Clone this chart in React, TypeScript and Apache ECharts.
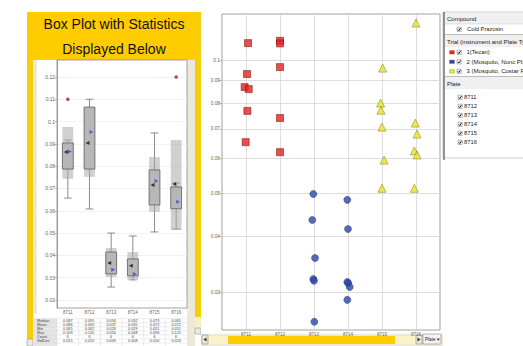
import React, { useEffect, useRef } from 'react';
import * as echarts from 'echarts';

// ---------- categories ----------
const plates = ['8711', '8712', '8713', '8714', '8715', '8716'];

// ---------- left panel: box plot (linear y) ----------
const boxTicks = [0.02, 0.03, 0.04, 0.05, 0.06, 0.07, 0.08, 0.09, 0.1, 0.11, 0.12];
const whiskerLow = [0.0657, 0.0608, 0.0258, 0.029, 0.0505, 0.0518];
const boxLow = [0.0787, 0.0787, 0.0317, 0.0308, 0.0626, 0.0609];
const boxHigh = [0.0904, 0.1065, 0.0415, 0.0384, 0.0783, 0.0707];
const whiskerHigh = [0.0917, 0.11, 0.05, 0.0487, 0.0949, 0.0724];
const bandLow = [0.0743, 0.0752, 0.0303, 0.0291, 0.0595, 0.0514];
const bandHigh = [0.0976, 0.1065, 0.0433, 0.0415, 0.0841, 0.0917];
const meanMarks = [0.0864, 0.0904, 0.0366, 0.0353, 0.0716, 0.072]; // black, pointing left
const medianMarks = [0.0866, 0.0953, 0.0335, 0.0317, 0.0733, 0.064]; // blue, pointing right
const outlierPlate = [0, 5];
const outlierValue = [0.11, 0.12];

// ---------- statistics table ----------
const statNames = ['Median', 'Mean', 'Min', 'Max', 'Count', 'StdDev'];
const statMedian = ['0.087', '0.095', '0.034', '0.032', '0.073', '0.065'];
const statMean = ['0.086', '0.090', '0.037', '0.035', '0.072', '0.072'];
const statMin = ['0.065', '0.062', '0.026', '0.029', '0.051', '0.051'];
const statMax = ['0.109', '0.110', '0.050', '0.048', '0.096', '0.121'];
const statCount = ['6', '6', '6', '6', '6', '6'];
const statStdDev = ['0.015', '0.020', '0.009', '0.008', '0.016', '0.024'];

// ---------- right panel: scatter (log y) ----------
const logTicks = [0.03, 0.04, 0.05, 0.06, 0.07, 0.08, 0.09, 0.1];
const logMin = 0.02463;
const logMax = 0.127;
const tecanX = [0.06, 0.03, -0.04, 0.08, 0.04, -0.01, 1.0, 1.0, 1.0, 1.0, 1.0];
const tecanY = [0.1092, 0.093, 0.0869, 0.086, 0.0768, 0.0653, 0.1105, 0.109, 0.0964, 0.074, 0.062];
const nuncX = [1.98, 1.95, 2.03, 1.98, 2.0, 2.01, 2.98, 3.0, 2.98, 3.01, 3.05, 2.98];
const nuncY = [0.0499, 0.0436, 0.0358, 0.0321, 0.0318, 0.0257, 0.0484, 0.0416, 0.0316, 0.0314, 0.0308, 0.0288];
const costarX = [4.02, 3.96, 3.97, 4.0, 4.06, 4.0, 5.0, 4.98, 5.03, 4.95, 5.03, 4.95];
const costarY = [0.0959, 0.08, 0.0771, 0.0706, 0.0595, 0.0514, 0.1212, 0.0721, 0.0681, 0.0624, 0.0611, 0.0514];

// ---------- legend ----------
const compoundItems = ['Cold Prazosin'];
const trialItems = ['1(Tecan)', '2 (Mosquito, Nunc Plate)', '3 (Mosquito, Costar Plate)'];
const trialColors = ['#e42323', '#2a47a8', '#e8e425'];

const FONT = 'Liberation Sans, Arial, sans-serif';
const L10 = (v: number) => Math.log10(v);

export default function App() {
  const ref = useRef<HTMLDivElement>(null);

  useEffect(() => {
    const chart = echarts.init(ref.current!, null, { renderer: 'svg' });

    const boxData = plates.map((_, i) => [i, whiskerLow[i], boxLow[i], boxHigh[i], whiskerHigh[i], bandLow[i], bandHigh[i]]);

    const option: any = {
      animation: false,
      backgroundColor: '#ffffff',
      grid: [
        { left: 57, top: 60, width: 130, height: 248, show: true, borderColor: '#8c8c8c', borderWidth: 0.8, backgroundColor: 'transparent' },
        { left: 222, top: 14, width: 218, height: 316, show: true, borderColor: '#8c8c8c', borderWidth: 0.8, backgroundColor: 'transparent' },
        { left: 246, top: 14, width: 170, height: 316, show: false },
      ],
      xAxis: [
        {
          type: 'category', gridIndex: 0, data: plates, boundaryGap: true,
          axisLine: { show: false }, axisTick: { show: false },
          axisLabel: { fontSize: 4.5, color: '#666', margin: 2, fontFamily: FONT },
          splitLine: { show: false },
        },
        { type: 'value', gridIndex: 1, min: 0, max: 1, show: false },
        {
          type: 'value', gridIndex: 2, min: 0, max: 5, interval: 1,
          axisLine: { show: false }, axisTick: { show: false },
          axisLabel: { fontSize: 4.6, color: '#666', margin: 2, fontFamily: FONT, formatter: (v: number) => plates[Math.round(v)] ?? '' },
          splitLine: { show: true, lineStyle: { color: '#d6d6d6', width: 0.8 } },
        },
      ],
      yAxis: [
        {
          type: 'value', gridIndex: 0, min: 0.0164, max: 0.1276,
          axisLine: { show: true, lineStyle: { color: '#8c8c8c', width: 0.8 } },
          axisTick: { show: true, length: 2, customValues: boxTicks, lineStyle: { color: '#8c8c8c', width: 0.6 } },
          axisLabel: { fontSize: 5, color: '#666', margin: 2, fontFamily: FONT, customValues: boxTicks, formatter: (v: number) => String(Number(v.toFixed(2))) },
          splitLine: { show: true, lineStyle: { color: '#efefef', width: 0.8 } },
        },
        {
          type: 'value', gridIndex: 1, min: L10(logMin), max: L10(logMax),
          axisLine: { show: false },
          axisTick: { show: true, length: 2.5, customValues: logTicks.map(L10), lineStyle: { color: '#8c8c8c', width: 0.6 } },
          axisLabel: { fontSize: 4.8, color: '#666', margin: 2, fontFamily: FONT, customValues: logTicks.map(L10), formatter: (v: number) => String(Number(Math.pow(10, v).toFixed(2))) },
          splitLine: { show: true, lineStyle: { color: '#d6d6d6', width: 0.8 } },
        },
        { type: 'value', gridIndex: 2, min: L10(logMin), max: L10(logMax), show: false },
      ],
      series: [
        {
          type: 'custom', xAxisIndex: 0, yAxisIndex: 0, data: boxData,
          encode: { x: 0, y: [1, 2, 3, 4, 5, 6] },
          renderItem: (_p: any, api: any) => {
            const i = api.value(0);
            const cx = api.coord([i, api.value(1)])[0];
            const bw = api.size([1, 0])[0];
            const w = bw * 0.5;
            const cap = bw * 0.36;
            const y = (k: number) => api.coord([i, api.value(k)])[1];
            const yWL = y(1), yBL = y(2), yBH = y(3), yWH = y(4), ySL = y(5), ySH = y(6);
            const ws = { stroke: '#707070', lineWidth: 0.8 };
            return {
              type: 'group',
              children: [
                { type: 'line', shape: { x1: cx, y1: yWL, x2: cx, y2: yBL }, style: ws },
                { type: 'line', shape: { x1: cx, y1: yBH, x2: cx, y2: yWH }, style: ws },
                { type: 'line', shape: { x1: cx - cap / 2, y1: yWL, x2: cx + cap / 2, y2: yWL }, style: ws },
                { type: 'line', shape: { x1: cx - cap / 2, y1: yWH, x2: cx + cap / 2, y2: yWH }, style: ws },
                { type: 'rect', shape: { x: cx - w / 2, y: ySH, width: w, height: ySL - ySH }, style: { fill: 'rgba(170,170,170,0.55)' } },
                { type: 'rect', shape: { x: cx - w / 2, y: yBH, width: w, height: yBL - yBH }, style: { fill: 'rgba(175,175,175,0.75)', stroke: '#5e5e5e', lineWidth: 0.8 } },
              ],
            };
          },
          z: 2,
        },
        {
          type: 'scatter', xAxisIndex: 0, yAxisIndex: 0, symbol: 'triangle', symbolSize: 4, symbolRotate: 90,
          symbolOffset: [-2, 0], itemStyle: { color: '#111' }, clip: false,
          data: plates.map((_, i) => [i, meanMarks[i]]), z: 4,
        },
        {
          type: 'scatter', xAxisIndex: 0, yAxisIndex: 0, symbol: 'triangle', symbolSize: 4, symbolRotate: -90,
          symbolOffset: [2, 0], itemStyle: { color: '#2f4fd0' }, clip: false,
          data: plates.map((_, i) => [i, medianMarks[i]]), z: 4,
        },
        {
          type: 'scatter', xAxisIndex: 0, yAxisIndex: 0, symbol: 'circle', symbolSize: 3.6, clip: false,
          itemStyle: { color: '#b31515' },
          data: outlierPlate.map((p, i) => [p, outlierValue[i]]), z: 4,
        },
        {
          name: trialItems[0], type: 'scatter', xAxisIndex: 2, yAxisIndex: 2, symbol: 'rect', symbolSize: 7, clip: false,
          itemStyle: { color: trialColors[0], borderColor: '#7a1212', borderWidth: 0.7 },
          data: tecanX.map((x, i) => [x, L10(tecanY[i])]), z: 5,
        },
        {
          name: trialItems[1], type: 'scatter', xAxisIndex: 2, yAxisIndex: 2, symbol: 'circle', symbolSize: 7, clip: false,
          itemStyle: { color: trialColors[1], borderColor: '#1d3380', borderWidth: 0.6 },
          data: nuncX.map((x, i) => [x, L10(nuncY[i])]), z: 5,
        },
        {
          name: trialItems[2], type: 'scatter', xAxisIndex: 2, yAxisIndex: 2, symbol: 'triangle', symbolSize: 8, clip: false,
          itemStyle: { color: trialColors[2], borderColor: '#8a8420', borderWidth: 0.7 },
          data: costarX.map((x, i) => [x, L10(costarY[i])]), z: 5,
        },
      ],
    };

    chart.setOption(option);

    // ---------- decorative layout + table + legend ----------
    const g: any[] = [];
    const bg = (x: number, y: number, w: number, h: number, fill: string, stroke?: string) =>
      g.push({ type: 'rect', z: -10, silent: true, shape: { x, y, width: w, height: h }, style: { fill, stroke: stroke ?? null, lineWidth: 0.6 } });
    const txt = (x: number, y: number, text: string, size: number, align = 'left', color = '#222', z = 20) =>
      g.push({ type: 'text', z, silent: true, x, y, style: { text, fontSize: size, fontFamily: FONT, fill: color, align, verticalAlign: 'middle' } });
    const ln = (x1: number, y1: number, x2: number, y2: number, stroke: string, lw = 0.5, z = 20) =>
      g.push({ type: 'line', z, silent: true, shape: { x1, y1, x2, y2 }, style: { stroke, lineWidth: lw } });
    const checkbox = (x: number, y: number) => {
      g.push({ type: 'rect', z: 20, silent: true, shape: { x, y, width: 4.2, height: 4.2 }, style: { fill: '#fff', stroke: '#6a6a6a', lineWidth: 0.5 } });
      g.push({ type: 'polyline', z: 21, silent: true, shape: { points: [[x + 0.8, y + 2.1], [x + 1.8, y + 3.3], [x + 3.5, y + 0.8]] }, style: { stroke: '#000', lineWidth: 0.9, fill: null } });
    };

    // left panel
    bg(27, 12, 174, 48, '#FFCC00');
    bg(27, 60, 6, 286, '#F6CF0C');
    bg(33, 60, 4, 286, '#ECE9D8');
    bg(37, 60, 150, 254, '#ffffff');
    bg(187, 60, 8, 286, '#ECE9D8');
    bg(195, 12, 6, 305, '#F6CF0C');
    bg(195, 317, 6, 11, '#F8F0C4');
    bg(195, 328, 6, 6, '#ECE9D8', '#9a9a9a');
    bg(27, 339, 6, 7, '#ECE9D8', '#9a9a9a');
    txt(114, 24, 'Box Plot with Statistics', 14, 'center', '#111');
    txt(114, 49, 'Displayed Below', 14, 'center', '#111');

    // right panel
    bg(201, 12, 242, 322, '#ffffff');
    bg(201, 334, 242, 12, '#ECE9D8');
    bg(208, 336, 208, 8, '#F8F2C6');
    bg(228, 336, 167, 8, '#FFCC00');
    bg(202, 335, 6, 9, '#ECE9D8', '#8a8a8a');
    bg(416, 335, 6, 9, '#ECE9D8', '#8a8a8a');
    g.push({ type: 'polygon', z: 20, silent: true, shape: { points: [[206.5, 337.5], [206.5, 341.5], [203.5, 339.5]] }, style: { fill: '#333' } });
    g.push({ type: 'polygon', z: 20, silent: true, shape: { points: [[417.5, 337.5], [417.5, 341.5], [420.5, 339.5]] }, style: { fill: '#333' } });
    bg(423, 334, 18, 10, '#F4F3EE', '#8a8a8a');
    txt(425, 339.2, 'Plate ▾', 4.6, 'left', '#222');

    // statistics table
    const colX = plates.map((_, i) => chart.convertToPixel({ xAxisIndex: 0 }, i) as number);
    const colW = colX.length > 1 ? colX[1] - colX[0] : 21.7;
    const rowTop = 318.7;
    const rowH = 4.05;
    const statTable = [statMedian, statMean, statMin, statMax, statCount, statStdDev];
    bg(33, 314, 154, 32, '#ffffff');
    g.push({ type: 'rect', z: -9, silent: true, shape: { x: 33, y: rowTop, width: colX[0] - colW / 2 - 33, height: 346 - rowTop }, style: { fill: '#E6E6E6' } });
    for (let r = 0; r <= statNames.length; r++) ln(33, rowTop + r * rowH, 187, rowTop + r * rowH, '#cfcfcf', 0.4, 5);
    plates.forEach((_, i) => ln(colX[i] - colW / 2, rowTop, colX[i] - colW / 2, 346, '#cfcfcf', 0.4, 5));
    statNames.forEach((name, r) => {
      const yy = rowTop + r * rowH + rowH / 2;
      txt(37, yy, name, 3.8, 'left', '#444');
      statTable[r].forEach((val, i) => txt(colX[i], yy, val, 3.8, 'center', '#444'));
    });

    // legend panel
    g.push({ type: 'rect', z: 10, silent: true, shape: { x: 443, y: 12, width: 82, height: 146 }, style: { fill: '#ffffff', stroke: '#a8a8a8', lineWidth: 0.6 } });
    g.push({ type: 'rect', z: 11, silent: true, shape: { x: 444, y: 13, width: 80, height: 11 }, style: { fill: '#F0F0F0' } });
    g.push({ type: 'rect', z: 11, silent: true, shape: { x: 444, y: 35, width: 80, height: 12 }, style: { fill: '#F0F0F0' } });
    g.push({ type: 'rect', z: 11, silent: true, shape: { x: 444, y: 77, width: 80, height: 12 }, style: { fill: '#F0F0F0' } });
    ln(444, 24, 523, 24, '#c8c8c8', 0.5);
    ln(444, 34.5, 523, 34.5, '#a0a0a0', 0.7);
    ln(444, 76.5, 523, 76.5, '#a0a0a0', 0.7);
    ln(444, 12, 444, 160, '#7a7a7a', 1.6);
    txt(447, 19, 'Compound', 6, 'left', '#222');
    compoundItems.forEach((c, i) => { checkbox(457, 27.2 + i * 9.5); txt(467, 29.3 + i * 9.5, c, 5.8, 'left', '#222'); });
    txt(447, 42, 'Trial (instrument and Plate Type)', 6, 'left', '#222');
    trialItems.forEach((t, i) => {
      const yy = 52.3 + i * 9.5;
      g.push({ type: 'rect', z: 20, silent: true, shape: { x: 449.5, y: yy - 1.8, width: 5, height: 3.6 }, style: { fill: trialColors[i], stroke: '#777', lineWidth: 0.3 } });
      checkbox(457, yy - 2.1);
      txt(466.5, yy, t, 6, 'left', '#222');
    });
    txt(447, 84.3, 'Plate', 6, 'left', '#222');
    plates.forEach((p, i) => {
      const yy = 97.3 + i * 9;
      checkbox(458, yy - 2.1);
      txt(464, yy, p, 5.8, 'left', '#222');
    });

    chart.setOption({ graphic: { elements: g } });

    return () => chart.dispose();
  }, []);

  return <div ref={ref} style={{ position: 'fixed', left: 0, top: 0, width: 523, height: 346 }} />;
}
